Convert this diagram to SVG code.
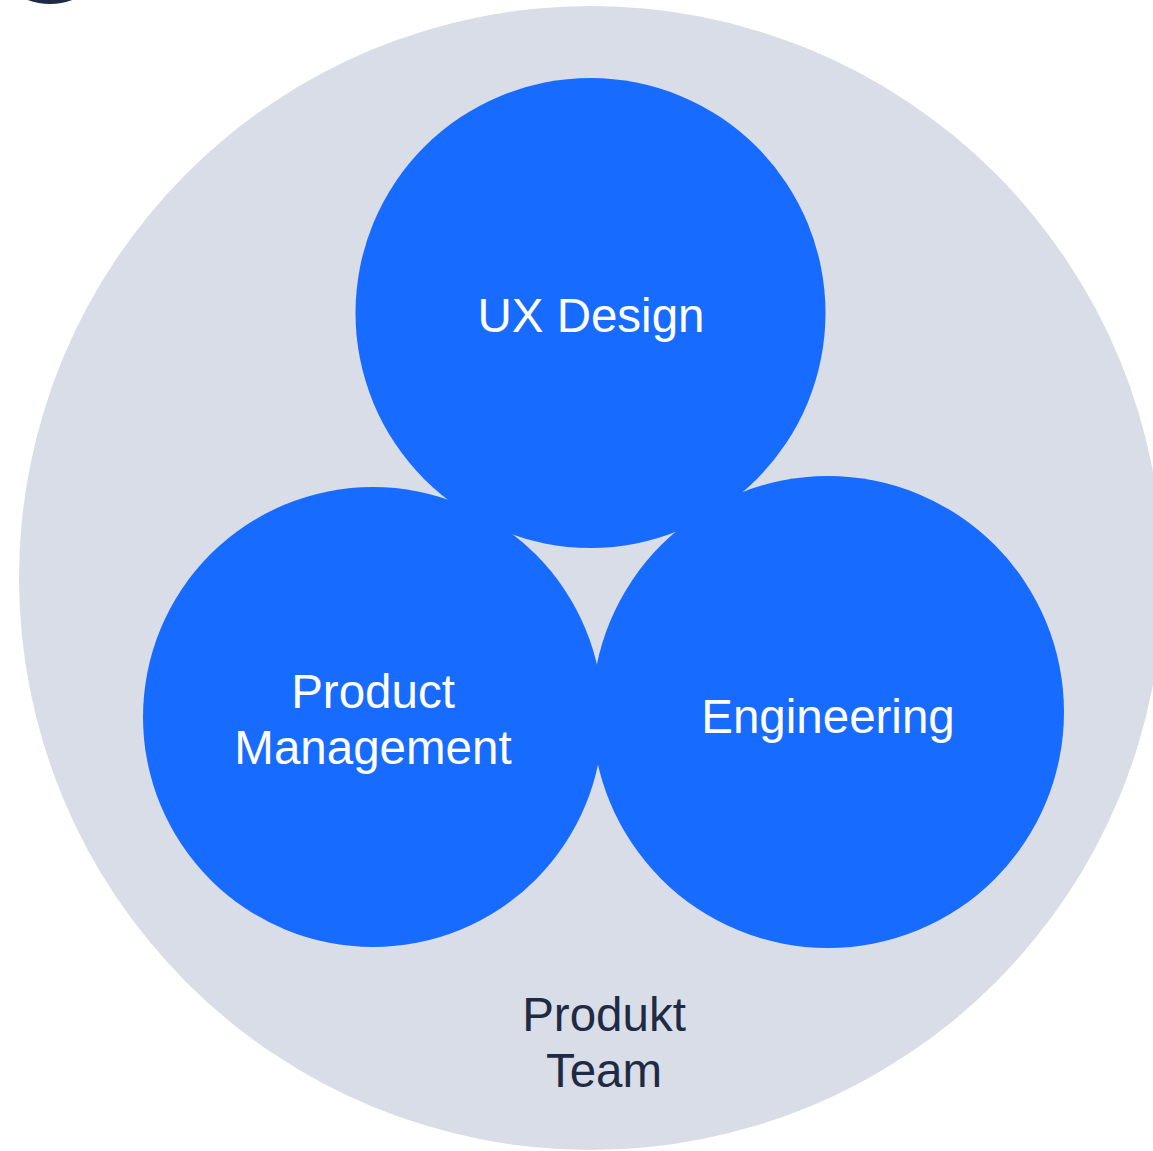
<svg xmlns="http://www.w3.org/2000/svg" width="1153" height="1151" viewBox="0 0 1153 1151">
<style>
.blue{fill:#176bff}
.wt{font-family:"Liberation Sans",Arial,sans-serif;font-size:47.5px;fill:#ffffff;text-anchor:middle}
.dk{font-family:"Liberation Sans",Arial,sans-serif;font-size:47.5px;fill:#1f2a44;text-anchor:middle}
</style>
<rect width="1153" height="1151" fill="#ffffff"/>
<circle cx="50" cy="-60" r="64" fill="#1f2a44"/>
<g id="team">
<circle cx="591" cy="578" r="572" fill="#d9dde7"/>
<text class="dk" x="604" y="1031">Produkt</text>
<text class="dk" x="604" y="1087">Team</text>
</g>
<g id="connectors"></g>
<g id="ux">
<circle class="blue" cx="590.5" cy="313" r="235"/>
<text class="wt" x="591" y="332">UX Design</text>
</g>
<g id="pm">
<circle class="blue" cx="373" cy="717" r="230"/>
<text class="wt" x="373" y="708">Product</text>
<text class="wt" x="373" y="764">Management</text>
</g>
<g id="eng">
<circle class="blue" cx="828" cy="712" r="236"/>
<text class="wt" x="828" y="733">Engineering</text>
</g>
</svg>
